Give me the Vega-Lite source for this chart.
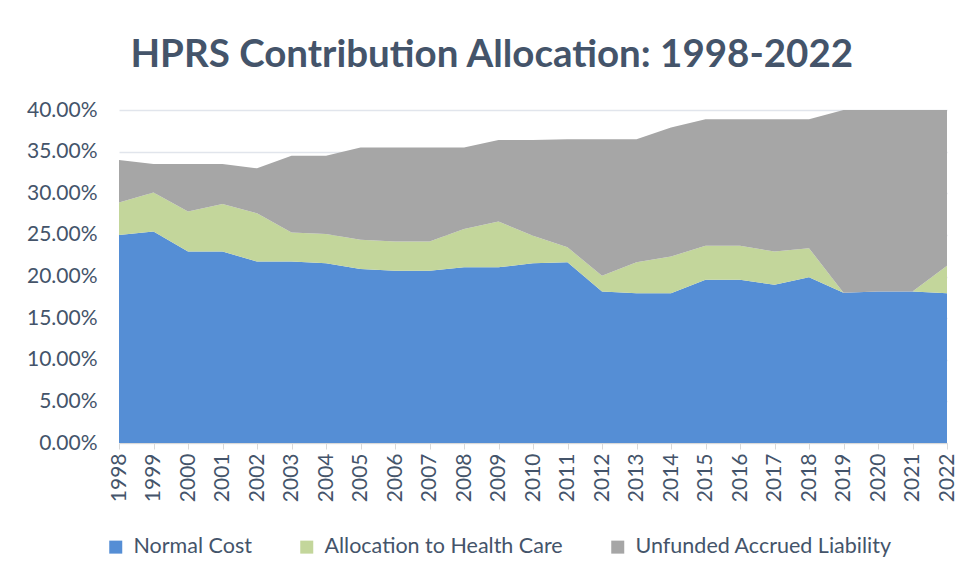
{
  "$schema": "https://vega.github.io/schema/vega-lite/v6.json",
  "width": 828,
  "height": 333,
  "padding": {"left": 26, "top": 35, "right": 19, "bottom": 10},
  "background": "white",
  "title": {
    "text": "HPRS Contribution Allocation: 1998-2022",
    "font": "Lato",
    "fontSize": 38.5,
    "fontWeight": "bold",
    "color": "#44546A",
    "anchor": "middle",
    "frame": "bounds",
    "offset": 24
  },
  "data": {
    "values": [
      {"year": "1998", "series": "Normal Cost", "value": 0.250},
      {"year": "1998", "series": "Allocation to Health Care", "value": 0.039},
      {"year": "1998", "series": "Unfunded Accrued Liability", "value": 0.051},
      {"year": "1999", "series": "Normal Cost", "value": 0.254},
      {"year": "1999", "series": "Allocation to Health Care", "value": 0.047},
      {"year": "1999", "series": "Unfunded Accrued Liability", "value": 0.034},
      {"year": "2000", "series": "Normal Cost", "value": 0.230},
      {"year": "2000", "series": "Allocation to Health Care", "value": 0.048},
      {"year": "2000", "series": "Unfunded Accrued Liability", "value": 0.057},
      {"year": "2001", "series": "Normal Cost", "value": 0.230},
      {"year": "2001", "series": "Allocation to Health Care", "value": 0.057},
      {"year": "2001", "series": "Unfunded Accrued Liability", "value": 0.048},
      {"year": "2002", "series": "Normal Cost", "value": 0.218},
      {"year": "2002", "series": "Allocation to Health Care", "value": 0.058},
      {"year": "2002", "series": "Unfunded Accrued Liability", "value": 0.054},
      {"year": "2003", "series": "Normal Cost", "value": 0.218},
      {"year": "2003", "series": "Allocation to Health Care", "value": 0.035},
      {"year": "2003", "series": "Unfunded Accrued Liability", "value": 0.092},
      {"year": "2004", "series": "Normal Cost", "value": 0.216},
      {"year": "2004", "series": "Allocation to Health Care", "value": 0.035},
      {"year": "2004", "series": "Unfunded Accrued Liability", "value": 0.094},
      {"year": "2005", "series": "Normal Cost", "value": 0.209},
      {"year": "2005", "series": "Allocation to Health Care", "value": 0.035},
      {"year": "2005", "series": "Unfunded Accrued Liability", "value": 0.111},
      {"year": "2006", "series": "Normal Cost", "value": 0.207},
      {"year": "2006", "series": "Allocation to Health Care", "value": 0.035},
      {"year": "2006", "series": "Unfunded Accrued Liability", "value": 0.113},
      {"year": "2007", "series": "Normal Cost", "value": 0.207},
      {"year": "2007", "series": "Allocation to Health Care", "value": 0.035},
      {"year": "2007", "series": "Unfunded Accrued Liability", "value": 0.113},
      {"year": "2008", "series": "Normal Cost", "value": 0.211},
      {"year": "2008", "series": "Allocation to Health Care", "value": 0.046},
      {"year": "2008", "series": "Unfunded Accrued Liability", "value": 0.098},
      {"year": "2009", "series": "Normal Cost", "value": 0.211},
      {"year": "2009", "series": "Allocation to Health Care", "value": 0.055},
      {"year": "2009", "series": "Unfunded Accrued Liability", "value": 0.098},
      {"year": "2010", "series": "Normal Cost", "value": 0.216},
      {"year": "2010", "series": "Allocation to Health Care", "value": 0.033},
      {"year": "2010", "series": "Unfunded Accrued Liability", "value": 0.115},
      {"year": "2011", "series": "Normal Cost", "value": 0.217},
      {"year": "2011", "series": "Allocation to Health Care", "value": 0.018},
      {"year": "2011", "series": "Unfunded Accrued Liability", "value": 0.130},
      {"year": "2012", "series": "Normal Cost", "value": 0.182},
      {"year": "2012", "series": "Allocation to Health Care", "value": 0.019},
      {"year": "2012", "series": "Unfunded Accrued Liability", "value": 0.164},
      {"year": "2013", "series": "Normal Cost", "value": 0.180},
      {"year": "2013", "series": "Allocation to Health Care", "value": 0.037},
      {"year": "2013", "series": "Unfunded Accrued Liability", "value": 0.148},
      {"year": "2014", "series": "Normal Cost", "value": 0.180},
      {"year": "2014", "series": "Allocation to Health Care", "value": 0.044},
      {"year": "2014", "series": "Unfunded Accrued Liability", "value": 0.155},
      {"year": "2015", "series": "Normal Cost", "value": 0.196},
      {"year": "2015", "series": "Allocation to Health Care", "value": 0.041},
      {"year": "2015", "series": "Unfunded Accrued Liability", "value": 0.152},
      {"year": "2016", "series": "Normal Cost", "value": 0.196},
      {"year": "2016", "series": "Allocation to Health Care", "value": 0.041},
      {"year": "2016", "series": "Unfunded Accrued Liability", "value": 0.152},
      {"year": "2017", "series": "Normal Cost", "value": 0.190},
      {"year": "2017", "series": "Allocation to Health Care", "value": 0.040},
      {"year": "2017", "series": "Unfunded Accrued Liability", "value": 0.159},
      {"year": "2018", "series": "Normal Cost", "value": 0.199},
      {"year": "2018", "series": "Allocation to Health Care", "value": 0.035},
      {"year": "2018", "series": "Unfunded Accrued Liability", "value": 0.155},
      {"year": "2019", "series": "Normal Cost", "value": 0.1805},
      {"year": "2019", "series": "Allocation to Health Care", "value": 0.000},
      {"year": "2019", "series": "Unfunded Accrued Liability", "value": 0.2195},
      {"year": "2020", "series": "Normal Cost", "value": 0.182},
      {"year": "2020", "series": "Allocation to Health Care", "value": 0.000},
      {"year": "2020", "series": "Unfunded Accrued Liability", "value": 0.218},
      {"year": "2021", "series": "Normal Cost", "value": 0.182},
      {"year": "2021", "series": "Allocation to Health Care", "value": 0.000},
      {"year": "2021", "series": "Unfunded Accrued Liability", "value": 0.218},
      {"year": "2022", "series": "Normal Cost", "value": 0.180},
      {"year": "2022", "series": "Allocation to Health Care", "value": 0.033},
      {"year": "2022", "series": "Unfunded Accrued Liability", "value": 0.187}
    ]
  },
  "transform": [
    {"calculate": "indexof(['Normal Cost', 'Allocation to Health Care', 'Unfunded Accrued Liability'], datum.series)", "as": "k"}
  ],
  "mark": {"type": "area", "interpolate": "linear"},
  "encoding": {
    "x": {
      "field": "year",
      "type": "ordinal",
      "scale": {"type": "point", "padding": 0},
      "axis": {
        "title": null,
        "labelAngle": -90,
        "labelFont": "Lato",
        "labelFontSize": 21,
        "labelColor": "#44546A",
        "labelPadding": 4,
        "tickColor": "#D9D9D9",
        "tickSize": 6,
        "domainColor": "#D9D9D9",
        "grid": false
      }
    },
    "y": {
      "field": "value",
      "type": "quantitative",
      "stack": "zero",
      "scale": {"domain": [0, 0.4], "nice": false},
      "axis": {
        "title": null,
        "format": ".2%",
        "values": [0, 0.05, 0.1, 0.15, 0.2, 0.25, 0.3, 0.35, 0.4],
        "labelFont": "Lato",
        "labelFontSize": 21,
        "labelColor": "#44546A",
        "labelPadding": 22,
        "ticks": false,
        "domain": false,
        "grid": true,
        "gridColor": "#E1E5EC",
        "gridWidth": 1.5
      }
    },
    "color": {
      "field": "series",
      "type": "nominal",
      "scale": {
        "domain": ["Normal Cost", "Allocation to Health Care", "Unfunded Accrued Liability"],
        "range": ["#558ED5", "#C3D69B", "#A6A6A6"]
      },
      "legend": {
        "title": null,
        "orient": "none",
        "legendX": -14,
        "legendY": 426,
        "direction": "horizontal",
        "symbolType": "square",
        "symbolSize": 169,
        "symbolStrokeWidth": 0,
        "labelFont": "Lato",
        "labelFontSize": 21.5,
        "labelColor": "#44546A",
        "labelLimit": 0,
        "columnPadding": 44,
        "labelOffset": 7
      }
    },
    "order": {"field": "k", "type": "quantitative", "sort": "ascending"}
  },
  "config": {"view": {"stroke": null}}
}
